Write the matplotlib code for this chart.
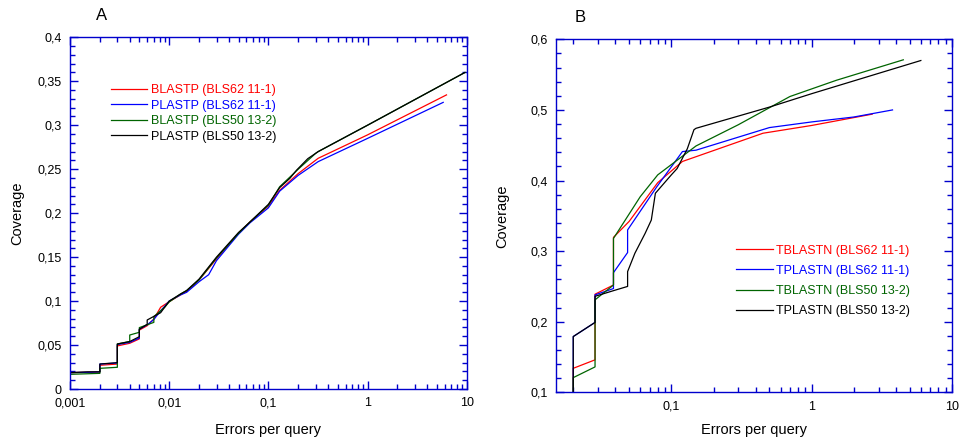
import matplotlib
matplotlib.use("Agg")
import matplotlib.pyplot as plt
from matplotlib.ticker import FuncFormatter, MultipleLocator, LogLocator, NullFormatter

plt.rcParams['font.family'] = ['Liberation Sans', 'DejaVu Sans']

# ---- panel A data (errors per query, coverage) ----
a_blastp62_x = [0.001, 0.001, 0.0015, 0.002, 0.002, 0.003, 0.003, 0.004, 0.005, 0.005, 0.006, 0.007,
                0.0082, 0.01, 0.013, 0.015, 0.02, 0.03, 0.05, 0.0653, 0.1, 0.13, 0.2, 0.318, 1.0, 6.26]
a_blastp62_y = [0.005, 0.0186, 0.019, 0.0195, 0.027, 0.0284, 0.049, 0.052, 0.057, 0.067, 0.072, 0.0796,
                0.093, 0.0993, 0.107, 0.111, 0.124, 0.148, 0.177, 0.19, 0.208, 0.226, 0.245, 0.2624, 0.289, 0.3345]

a_plastp62_x = [0.001, 0.001, 0.0015, 0.002, 0.002, 0.003, 0.003, 0.004, 0.005, 0.005, 0.006, 0.007,
                0.0082, 0.01, 0.013, 0.015, 0.02, 0.025, 0.03, 0.05, 0.0653, 0.1, 0.13, 0.2, 0.318, 1.0, 5.8]
a_plastp62_y = [0.005, 0.0186, 0.019, 0.0195, 0.0284, 0.0295, 0.0505, 0.053, 0.058, 0.068, 0.073, 0.079,
                0.089, 0.1, 0.107, 0.11, 0.122, 0.13, 0.146, 0.176, 0.189, 0.206, 0.225, 0.243, 0.2586, 0.285, 0.326]

a_blastp50_x = [0.001, 0.001, 0.002, 0.002, 0.003, 0.003, 0.004, 0.004, 0.005, 0.005, 0.007, 0.007,
                0.009, 0.01, 0.013, 0.015, 0.02, 0.03, 0.05, 0.0653, 0.1, 0.13, 0.2, 0.3, 0.318, 1.0, 9.6]
a_blastp50_y = [0.004, 0.0167, 0.0178, 0.0235, 0.0247, 0.0512, 0.054, 0.0614, 0.0645, 0.0698, 0.0758, 0.0823,
                0.093, 0.099, 0.108, 0.112, 0.124, 0.149, 0.177, 0.19, 0.209, 0.23, 0.25, 0.268, 0.270, 0.3, 0.36]

a_plastp50_x = [0.001, 0.001, 0.0015, 0.002, 0.002, 0.003, 0.003, 0.004, 0.005, 0.005, 0.006, 0.006,
                0.0082, 0.01, 0.013, 0.015, 0.02, 0.03, 0.05, 0.0653, 0.1, 0.13, 0.165, 0.193, 0.25, 0.318, 1.0, 9.6]
a_plastp50_y = [0.005, 0.0186, 0.0195, 0.0195, 0.0284, 0.030, 0.0512, 0.054, 0.0595, 0.068, 0.0736, 0.0785,
                0.0868, 0.100, 0.108, 0.112, 0.125, 0.15, 0.178, 0.19, 0.21, 0.229, 0.2397, 0.249, 0.262, 0.270, 0.3, 0.36]

# ---- panel B data ----
b_tblastn62_x = [0.02, 0.02, 0.0286, 0.0286, 0.0387, 0.0387, 0.05, 0.08, 0.12, 0.45, 1.0, 2.7]
b_tblastn62_y = [0.1, 0.134, 0.146, 0.239, 0.252, 0.3195, 0.342, 0.397, 0.427, 0.467, 0.478, 0.494]

b_tplastn62_x = [0.02, 0.02, 0.0286, 0.0286, 0.0387, 0.0387, 0.0488, 0.0488, 0.0787, 0.12, 0.15, 0.5, 1.0, 2.0, 3.77]
b_tplastn62_y = [0.1, 0.179, 0.199, 0.238, 0.247, 0.2695, 0.298, 0.33, 0.391, 0.441, 0.443, 0.475, 0.483, 0.49, 0.5]

b_tblastn50_x = [0.02, 0.02, 0.0286, 0.0286, 0.0387, 0.0387, 0.06, 0.08, 0.15, 0.3, 0.7, 1.5, 4.5]
b_tblastn50_y = [0.1, 0.1208, 0.136, 0.231, 0.252, 0.318, 0.377, 0.408, 0.449, 0.479, 0.519, 0.542, 0.571]

b_tplastn50_x = [0.02, 0.02, 0.0286, 0.0286, 0.0387, 0.0488, 0.0488, 0.055, 0.065, 0.072, 0.077, 0.1, 0.11,
                 0.13, 0.145, 0.15, 0.5, 1.0, 6.0]
b_tplastn50_y = [0.1, 0.179, 0.199, 0.236, 0.244, 0.25, 0.271, 0.297, 0.325, 0.344, 0.382, 0.408, 0.417,
                 0.445, 0.472, 0.474, 0.504, 0.523, 0.57]

a_labels = ['BLASTP (BLS62 11-1)', 'PLASTP (BLS62 11-1)', 'BLASTP (BLS50 13-2)', 'PLASTP (BLS50 13-2)']
b_labels = ['TBLASTN (BLS62 11-1)', 'TPLASTN (BLS62 11-1)', 'TBLASTN (BLS50 13-2)', 'TPLASTN (BLS50 13-2)']
colors = ['#ff0000', '#0000ff', '#006400', '#000000']
spine_col = '#0000cc'


def comma(v, pos):
    s = '%g' % v
    return s.replace('.', ',')


def style_axes(ax, ymaj, ymin, xlab_y):
    ax.set_xscale('log')
    for sp in ax.spines.values():
        sp.set_color(spine_col)
        sp.set_linewidth(1.0)
    ax.yaxis.set_major_locator(MultipleLocator(ymaj))
    ax.yaxis.set_minor_locator(MultipleLocator(ymin))
    ax.xaxis.set_major_locator(LogLocator(base=10))
    ax.xaxis.set_minor_locator(LogLocator(base=10, subs=range(2, 10)))
    ax.xaxis.set_minor_formatter(NullFormatter())
    ax.xaxis.set_major_formatter(FuncFormatter(comma))
    ax.yaxis.set_major_formatter(FuncFormatter(comma))
    ax.tick_params(which='both', direction='in', top=True, right=True, color=spine_col,
                   labelsize=9, width=1.0)
    ax.tick_params(which='major', length=6, pad=6)
    ax.tick_params(which='minor', length=3.5)
    ax.set_xlabel('Errors per query', fontsize=10.5, va='center')
    ax.set_ylabel('Coverage', fontsize=10.5, va='center')
    ax.xaxis.set_label_coords(0.5, xlab_y)
    ax.yaxis.set_label_coords(-0.134, 0.5)


fig = plt.figure(figsize=(9.7, 4.42), dpi=100)
axA = fig.add_axes([0.0722, 0.1199, 0.4089, 0.7957])
axB = fig.add_axes([0.5729, 0.1124, 0.4085, 0.7986])

a_series = [(a_blastp62_x, a_blastp62_y), (a_plastp62_x, a_plastp62_y),
            (a_blastp50_x, a_blastp50_y), (a_plastp50_x, a_plastp50_y)]
for (xs, ys), c, lab in zip(a_series, colors, a_labels):
    axA.plot(xs, ys, color=c, lw=0.9, label=lab)
axA.set_xlim(0.001, 10)
axA.set_ylim(0, 0.4)
style_axes(axA, 0.05, 0.01, -0.117)
axA.legend(loc='upper left', bbox_to_anchor=(0.087, 0.885), frameon=False, fontsize=9,
           handlelength=2.9, handletextpad=0.3, labelspacing=0.28, borderpad=0,
           labelcolor='linecolor')

b_series = [(b_tblastn62_x, b_tblastn62_y), (b_tplastn62_x, b_tplastn62_y),
            (b_tblastn50_x, b_tblastn50_y), (b_tplastn50_x, b_tplastn50_y)]
for (xs, ys), c, lab in zip(b_series, colors, b_labels):
    axB.plot(xs, ys, color=c, lw=0.9, label=lab)
axB.set_xlim(0.015, 10)
axB.set_ylim(0.1, 0.6)
style_axes(axB, 0.1, 0.02, -0.107)
axB.legend(loc='upper left', bbox_to_anchor=(0.44, 0.436), frameon=False, fontsize=9,
           handlelength=2.9, handletextpad=0.3, labelspacing=0.65, borderpad=0,
           labelcolor='linecolor')

fig.text(102 / 970, 1 - 15 / 442, 'A', fontsize=12, ha='center', va='center')
fig.text(580 / 970, 1 - 17 / 442, 'B', fontsize=12, ha='center', va='center')

fig.savefig('out.png', dpi=100)
